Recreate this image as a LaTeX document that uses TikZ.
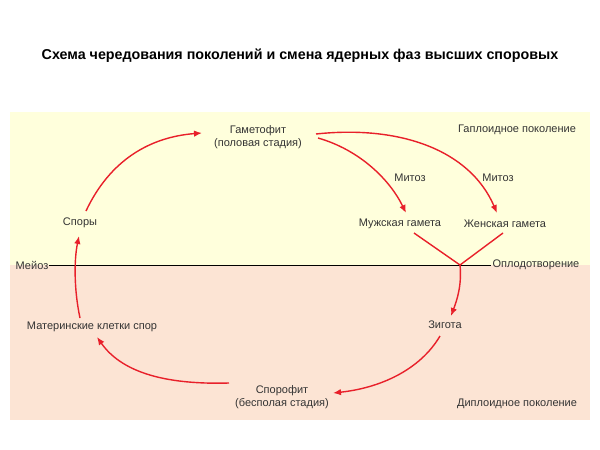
\documentclass[tikz,border=0pt]{standalone}
\usepackage{fontspec}
\setmainfont{Liberation Sans}
\usetikzlibrary{arrows.meta}
\definecolor{hap}{HTML}{FFFFDC}
\definecolor{dip}{HTML}{FCE4D4}
\definecolor{arr}{HTML}{E8202A}
\begin{document}
\begin{tikzpicture}[x=1pt,y=-1pt,
  lbl/.style={font=\fontsize{11}{12.5}\selectfont, text=black!80, inner sep=1pt, align=center},
  ra/.style={draw=arr, line width=1.4pt, -{Latex[length=8pt,width=6.5pt]}},
  rl/.style={draw=arr, line width=1.4pt}]
\useasboundingbox (0,0) rectangle (600,450);
\fill[white] (0,0) rectangle (600,450);
\fill[hap] (10,112) rectangle (590,265);
\fill[dip] (10,265) rectangle (590,420);
\node[font=\bfseries\fontsize{14.3}{16}\selectfont] (title) at (300,56) {Схема чередования поколений и смена ядерных фаз высших споровых};
\node[lbl] (gam) at (258,137) {Гаметофит\\(половая стадия)};
\node[lbl] (spo) at (80,223) {Споры};
\node[lbl] (male) at (400,224) {Мужская гамета};
\node[lbl] (fem) at (505,224) {Женская гамета};
\node[lbl] (mit1) at (410,178) {Митоз};
\node[lbl] (mit2) at (498,178) {Митоз};
\node[lbl] (hapl) at (517,130) {Гаплоидное поколение};
\node[lbl] (meio) at (32,265) {Мейоз};
\node[lbl] (fert) at (536,265) {Оплодотворение};
\node[lbl] (zyg) at (445,325) {Зигота};
\node[lbl] (mat) at (92,327) {Материнские клетки спор};
\node[lbl] (spf) at (282,397) {Спорофит\\(бесполая стадия)};
\node[lbl] (dipl) at (517,404) {Диплоидное поколение};
\coordinate (fx) at (460,265);
\draw (meio.east) -- (fert.west);
\draw[ra] (229,383) .. controls (160,385) and (120,370) .. (97,337);
\draw[ra] (80,318) .. controls (74,290) and (74,260) .. (79,236);
\draw[ra] (86,211) .. controls (110,160) and (150,137) .. (202,133);
\draw[ra] (318,138) .. controls (360,150) and (390,180) .. (406,213);
\draw[ra] (316,134) .. controls (400,125) and (470,150) .. (497,213);
\draw[rl] (414,233) -- (fx);
\draw[rl] (503,233) -- (fx);
\draw[ra] (fx) .. controls (462,285) and (457,300) .. (451,316);
\draw[ra] (440,336) .. controls (420,370) and (380,388) .. (333,393);
\end{tikzpicture}
\end{document}
